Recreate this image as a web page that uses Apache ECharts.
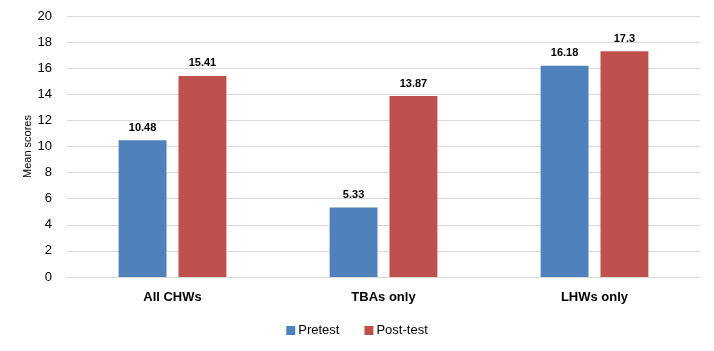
<!DOCTYPE html>
<html><head><meta charset="utf-8">
<script src="https://cdn.jsdelivr.net/npm/echarts@6/dist/echarts.min.js"></script>
<style>html,body{margin:0;padding:0;background:#fff}#c{width:714px;height:351px}</style>
</head><body><div id="c"></div>
<script>
const categories = ['All CHWs', 'TBAs only', 'LHWs only'];
const pretest = [10.48, 5.33, 16.18];
const posttest = [15.41, 13.87, 17.3];
const yTicks = [0, 2, 4, 6, 8, 10, 12, 14, 16, 18, 20];

const font = 'Liberation Sans, Arial, sans-serif';
const chart = echarts.init(document.getElementById('c'));
chart.setOption({
  animation: false,
  textStyle: { fontFamily: font },
  grid: { left: 67, right: 14, top: 16, bottom: 74 },
  legend: {
    bottom: 9, left: 'center', itemWidth: 9, itemHeight: 9, itemGap: 25,
    icon: 'rect',
    textStyle: { fontSize: 13, color: '#000', fontFamily: font, padding: [0, 0, 0, -2] },
    data: ['Pretest', 'Post-test']
  },
  xAxis: {
    type: 'category', data: categories,
    axisLine: { lineStyle: { color: '#d9d9d9' } },
    axisTick: { show: false },
    axisLabel: { fontSize: 13, fontWeight: 'bold', color: '#000', margin: 14, fontFamily: font }
  },
  yAxis: {
    type: 'value', min: yTicks[0], max: yTicks[yTicks.length - 1], interval: 2,
    name: 'Mean scores', nameLocation: 'middle', nameGap: 34, nameMoveOverlap: false,
    nameTextStyle: { fontSize: 11, color: '#000', fontFamily: font },
    axisLine: { show: false }, axisTick: { show: false },
    axisLabel: { fontSize: 13, color: '#000', margin: 15, fontFamily: font },
    splitLine: { lineStyle: { color: '#d9d9d9' } }
  },
  series: [
    { name: 'Pretest', type: 'bar', data: pretest, barWidth: '22.7%', barGap: '25%',
      itemStyle: { color: '#4F81BD' },
      label: { show: true, position: 'top', distance: 7, fontSize: 11, fontWeight: 'bold', color: '#000', fontFamily: font } },
    { name: 'Post-test', type: 'bar', data: posttest, barWidth: '22.7%', barGap: '25%',
      itemStyle: { color: '#C0504D' },
      label: { show: true, position: 'top', distance: 7, fontSize: 11, fontWeight: 'bold', color: '#000', fontFamily: font } }
  ]
});
</script></body></html>
